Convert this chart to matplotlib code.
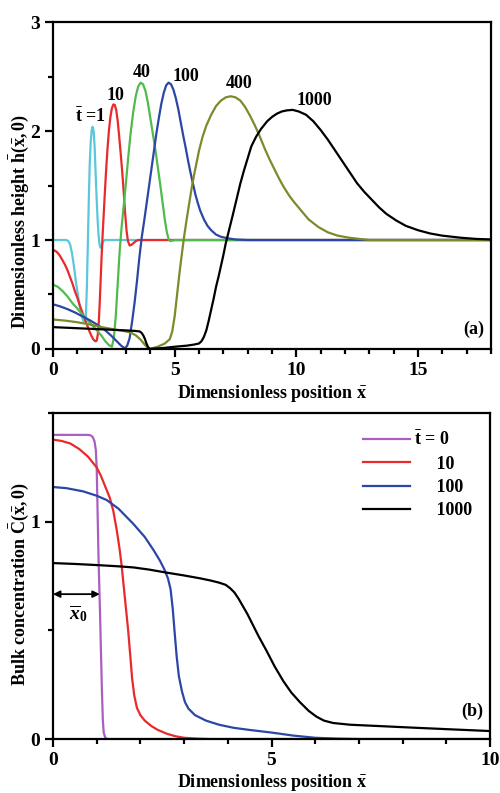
import matplotlib
matplotlib.use('Agg')
import matplotlib.pyplot as plt
from matplotlib.ticker import MultipleLocator

plt.rcParams['font.family'] = 'Liberation Serif'
plt.rcParams['font.weight'] = 'bold'
plt.rcParams['mathtext.fontset'] = 'custom'
plt.rcParams['mathtext.rm'] = 'Liberation Serif:bold'
plt.rcParams['mathtext.bf'] = 'Liberation Serif:bold'
plt.rcParams['mathtext.it'] = 'Liberation Serif:italic'
plt.rcParams['mathtext.sf'] = 'Liberation Serif'

# ---- (a) film height profiles h(x,0) at several times ----
x_t1 = [0, 0.2, 0.4, 0.55, 0.63, 0.7, 0.78, 0.86, 0.94, 1.02, 1.1, 1.17, 1.24, 1.3, 1.35, 1.39, 1.42, 1.45, 1.48,
        1.51, 1.55, 1.59, 1.63, 1.67, 1.71, 1.75, 1.79, 1.83, 1.87, 1.91, 1.95, 2.0, 2.05, 2.12, 2.2, 18]
h_t1 = [1.0, 1.0, 1.0, 1.0, 0.99, 0.96, 0.88, 0.76, 0.62, 0.5, 0.39, 0.31, 0.26, 0.25, 0.3, 0.55, 0.85, 1.15, 1.45,
        1.7, 1.9, 2.01, 2.04, 2.0, 1.86, 1.62, 1.4, 1.2, 1.05, 0.96, 0.93, 0.95, 0.98, 1.0, 1.0, 1.0]

x_t10 = [0, 0.1, 0.2, 0.3, 0.4, 0.5, 0.6, 0.7, 0.8, 0.9, 1.0, 1.1, 1.2, 1.3, 1.4, 1.5, 1.58, 1.65, 1.71, 1.76,
         1.8, 1.84, 1.88, 1.92, 1.96, 2.0, 2.04, 2.08, 2.13, 2.18, 2.24, 2.3, 2.36, 2.42, 2.48, 2.54, 2.6, 2.66,
         2.72, 2.78, 2.84, 2.9, 2.96, 3.02, 3.08, 3.15, 3.22, 3.3, 3.4, 3.5, 18]
h_t10 = [0.91, 0.9, 0.88, 0.85, 0.81, 0.77, 0.72, 0.66, 0.6, 0.53, 0.47, 0.4, 0.34, 0.28, 0.22, 0.16, 0.12, 0.09,
         0.075, 0.07, 0.08, 0.13, 0.24, 0.42, 0.64, 0.86, 1.05, 1.22, 1.43, 1.63, 1.84, 2.01, 2.13, 2.21, 2.245,
         2.24, 2.19, 2.09, 1.95, 1.8, 1.64, 1.46, 1.26, 1.09, 0.99, 0.95, 0.955, 0.97, 0.99, 1.0, 1.0]

x_t40 = [0, 0.2, 0.4, 0.6, 0.8, 1.0, 1.2, 1.4, 1.6, 1.8, 2.0, 2.15, 2.3, 2.42, 2.5, 2.58, 2.66, 2.74, 2.82, 2.9,
         3.0, 3.1, 3.2, 3.3, 3.4, 3.5, 3.6, 3.7, 3.8, 3.9, 4.0, 4.1, 4.2, 4.3, 4.4, 4.5, 4.6, 4.68, 4.75, 4.82,
         4.9, 5.0, 18]
h_t40 = [0.59, 0.57, 0.53, 0.48, 0.42, 0.37, 0.32, 0.27, 0.22, 0.17, 0.12, 0.07, 0.035, 0.02, 0.1, 0.3, 0.6, 0.9,
         1.12, 1.3, 1.53, 1.78, 2.0, 2.18, 2.32, 2.41, 2.445, 2.43, 2.37, 2.26, 2.12, 1.98, 1.84, 1.68, 1.52,
         1.35, 1.18, 1.07, 1.01, 0.99, 0.995, 1.0, 1.0]

x_t100 = [0, 0.3, 0.6, 0.9, 1.2, 1.5, 1.8, 2.1, 2.4, 2.6, 2.8, 2.95, 3.05, 3.15, 3.25, 3.35, 3.45, 3.55, 3.65,
          3.75, 3.85, 3.95, 4.05, 4.15, 4.25, 4.35, 4.45, 4.55, 4.65, 4.75, 4.85, 4.95, 5.05, 5.15, 5.25, 5.35,
          5.45, 5.55, 5.65, 5.75, 5.85, 5.95, 6.05, 6.2, 6.35, 6.5, 6.7, 6.9, 7.2, 7.5, 8.0, 18]
h_t100 = [0.41, 0.39, 0.365, 0.335, 0.3, 0.265, 0.225, 0.18, 0.12, 0.075, 0.03, 0.005, 0.03, 0.1, 0.25, 0.42,
          0.62, 0.84, 1.03, 1.18, 1.34, 1.5, 1.66, 1.82, 1.98, 2.12, 2.25, 2.35, 2.42, 2.445, 2.43, 2.38, 2.3,
          2.2, 2.08, 1.96, 1.85, 1.73, 1.62, 1.52, 1.42, 1.34, 1.27, 1.19, 1.13, 1.09, 1.05, 1.03, 1.015, 1.005,
          1.0, 1.0]

x_t400 = [0, 0.5, 1.0, 1.5, 2.0, 2.5, 2.9, 3.2, 3.4, 3.6, 3.75, 3.87, 3.97, 4.3, 4.6, 4.8, 4.9, 5.0, 5.1, 5.2,
          5.3, 5.4, 5.5, 5.6, 5.7, 5.8, 5.9, 6.0, 6.15, 6.3, 6.5, 6.7, 6.9, 7.1, 7.3, 7.5, 7.7, 7.9, 8.1, 8.3,
          8.5, 8.7, 8.9, 9.1, 9.3, 9.5, 9.7, 9.9, 10.2, 10.5, 10.9, 11.3, 11.7, 12.2, 13.0, 18]
h_t400 = [0.27, 0.26, 0.245, 0.225, 0.2, 0.18, 0.165, 0.15, 0.125, 0.085, 0.045, 0.015, 0.0, 0.02, 0.05, 0.09,
          0.16, 0.3, 0.5, 0.7, 0.88, 1.05, 1.2, 1.34, 1.48, 1.6, 1.71, 1.82, 1.95, 2.05, 2.15, 2.23, 2.28, 2.31,
          2.32, 2.31, 2.28, 2.22, 2.14, 2.05, 1.95, 1.84, 1.74, 1.65, 1.56, 1.48, 1.41, 1.35, 1.27, 1.19, 1.12,
          1.07, 1.04, 1.02, 1.0, 1.0]

x_t1000 = [0, 1.0, 2.0, 3.0, 3.4, 3.57, 3.65, 3.72, 3.78, 3.84, 3.9, 3.97, 4.5, 5.0, 5.5, 5.8, 6.0, 6.1, 6.2,
           6.3, 6.4, 6.5, 6.6, 6.7, 6.8, 6.9, 7.0, 7.1, 7.2, 7.3, 7.4, 7.55, 7.7, 7.85, 8.0, 8.15, 8.35, 8.55,
           8.8, 9.0, 9.2, 9.4, 9.6, 9.85, 10.1, 10.4, 10.7, 11.0, 11.3, 11.6, 11.9, 12.2, 12.5, 12.8, 13.1, 13.4,
           13.7, 14.1, 14.5, 15.0, 15.5, 16.0, 16.8, 17.4, 18]
h_t1000 = [0.2, 0.19, 0.18, 0.17, 0.165, 0.16, 0.145, 0.12, 0.09, 0.05, 0.02, 0.0, 0.008, 0.02, 0.03, 0.04, 0.05,
           0.07, 0.11, 0.17, 0.26, 0.36, 0.46, 0.57, 0.66, 0.76, 0.86, 0.97, 1.06, 1.15, 1.24, 1.38, 1.52, 1.64,
           1.75, 1.86, 1.95, 2.02, 2.09, 2.13, 2.16, 2.18, 2.19, 2.195, 2.18, 2.15, 2.09, 2.01, 1.92, 1.82, 1.72,
           1.62, 1.52, 1.44, 1.37, 1.3, 1.24, 1.18, 1.13, 1.09, 1.06, 1.04, 1.02, 1.01, 1.005]

height_curves = [
    (x_t1, h_t1, '#5ac7da'),
    (x_t10, h_t10, '#e82a2c'),
    (x_t40, h_t40, '#50bb4c'),
    (x_t100, h_t100, '#2c46a6'),
    (x_t400, h_t400, '#7c8a2c'),
    (x_t1000, h_t1000, 'black'),
]
height_labels = [r'$\bar{\mathrm{t}}$ =1', '10', '40', '100', '400', '1000']
height_label_pos = [(1.55, 2.13), (2.56, 2.33), (3.63, 2.54), (5.48, 2.5), (7.66, 2.44), (10.76, 2.28)]

# ---- (b) bulk concentration profiles C(x,0) ----
x_c0 = [0, 0.5, 0.8, 0.86, 0.91, 0.95, 0.98, 1.0, 1.02, 1.04, 1.06, 1.08, 1.1, 1.12, 1.14, 1.16, 1.19, 1.23, 10]
c_c0 = [1.40, 1.40, 1.40, 1.398, 1.39, 1.37, 1.33, 1.25, 1.05, 0.85, 0.7, 0.55, 0.38, 0.22, 0.09, 0.03, 0.01, 0.0, 0.0]

x_c10 = [0, 0.2, 0.4, 0.6, 0.8, 1.0, 1.1, 1.2, 1.3, 1.38, 1.46, 1.52, 1.57, 1.62, 1.67, 1.72, 1.77, 1.81, 1.86,
         1.92, 2.0, 2.1, 2.25, 2.4, 2.6, 2.8, 3.0, 3.3, 3.6, 10]
c_c10 = [1.378, 1.372, 1.36, 1.335, 1.3, 1.25, 1.21, 1.16, 1.11, 1.05, 0.96, 0.88, 0.8, 0.7, 0.6, 0.5, 0.38, 0.28,
         0.2, 0.144, 0.11, 0.085, 0.06, 0.042, 0.025, 0.013, 0.006, 0.002, 0.0, 0.0]

x_c100 = [0, 0.3, 0.69, 1.0, 1.23, 1.5, 1.84, 2.1, 2.3, 2.45, 2.55, 2.63, 2.69, 2.74, 2.78, 2.83, 2.88, 2.95, 3.02,
          3.1, 3.25, 3.5, 3.8, 4.13, 4.5, 5.0, 5.5, 6.0, 6.5, 7.0, 10]
c_c100 = [1.16, 1.155, 1.14, 1.12, 1.10, 1.06, 0.99, 0.93, 0.87, 0.82, 0.78, 0.74, 0.69, 0.6, 0.5, 0.38, 0.29,
          0.22, 0.17, 0.14, 0.11, 0.085, 0.066, 0.052, 0.042, 0.03, 0.016, 0.006, 0.002, 0.0, 0.0]

x_c1000 = [0, 0.5, 1.08, 1.5, 1.84, 2.2, 2.6, 3.0, 3.36, 3.6, 3.8, 3.95, 4.05, 4.15, 4.25, 4.35, 4.45, 4.55, 4.7,
           4.89, 5.07, 5.27, 5.45, 5.65, 5.85, 6.03, 6.2, 6.41, 6.8, 7.56, 8.3, 9.08, 10]
c_c1000 = [0.81, 0.806, 0.80, 0.795, 0.79, 0.78, 0.766, 0.753, 0.74, 0.73, 0.72, 0.71, 0.695, 0.675, 0.645, 0.61,
           0.575, 0.535, 0.475, 0.405, 0.335, 0.267, 0.215, 0.17, 0.13, 0.103, 0.085, 0.074, 0.066, 0.059, 0.052,
           0.045, 0.037]

conc_curves = [
    (x_c0, c_c0, '#ab5ec2'),
    (x_c10, c_c10, '#e82a2c'),
    (x_c100, c_c100, '#2c46a6'),
    (x_c1000, c_c1000, 'black'),
]
conc_labels = [r'$\bar{\mathrm{t}}$ = 0', '     10', '     100', '     1000']

x0_front = 1.07   # initial front position of the bulk solution
arrow_level = 0.667

fig = plt.figure(figsize=(5, 7.93), dpi=100)
ax1 = fig.add_axes([0.106, 0.560, 0.876, 0.412])
ax2 = fig.add_axes([0.106, 0.068, 0.874, 0.411])

for x, h, c in height_curves:
    ax1.plot(x, h, color=c, lw=1.6)
for (tx, ty), lab in zip(height_label_pos, height_labels):
    ax1.text(tx, ty, lab, fontsize=13, fontweight='bold', ha='center', va='center')

ax1.set_xlim(0, 18)
ax1.set_ylim(0, 3)
ax1.xaxis.set_major_locator(MultipleLocator(5))
ax1.xaxis.set_minor_locator(MultipleLocator(1))
ax1.yaxis.set_major_locator(MultipleLocator(1))
ax1.yaxis.set_minor_locator(MultipleLocator(0.5))
ax1.set_xlabel(r'Dimensionless position $\bar{\mathrm{x}}$', fontsize=13, fontweight='bold')
ax1.set_ylabel(r'Dimensionless height $\bar{\mathrm{h}}(\bar{\mathrm{x}},0)$', fontsize=13, fontweight='bold')
ax1.text(0.985, 0.034, '(a)', transform=ax1.transAxes, ha='right', va='bottom', fontsize=13, fontweight='bold')

for (x, cval, c), lab in zip(conc_curves, conc_labels):
    ax2.plot(x, cval, color=c, lw=1.6, label=lab)

ax2.annotate('', xy=(0, arrow_level), xytext=(x0_front, arrow_level),
             arrowprops=dict(arrowstyle='<|-|>', color='black', lw=1.3,
                             shrinkA=0, shrinkB=0, mutation_scale=10))
ax2.text(0.58, 0.575, r'$\overline{x}_{\mathsf{0}}$', fontsize=14, ha='center', va='center')

ax2.set_xlim(0, 10)
ax2.set_ylim(0, 1.5)
ax2.xaxis.set_major_locator(MultipleLocator(5))
ax2.xaxis.set_minor_locator(MultipleLocator(1))
ax2.yaxis.set_major_locator(MultipleLocator(1))
ax2.yaxis.set_minor_locator(MultipleLocator(0.5))
ax2.set_xlabel(r'Dimensionless position $\bar{\mathrm{x}}$', fontsize=13, fontweight='bold')
ax2.set_ylabel(r'Bulk concentration $\bar{\mathrm{C}}(\bar{\mathrm{x}},0)$', fontsize=13, fontweight='bold')
ax2.text(0.985, 0.058, '(b)', transform=ax2.transAxes, ha='right', va='bottom', fontsize=13, fontweight='bold')
ax2.legend(loc='upper right', frameon=False, fontsize=13, handlelength=2.6,
           labelspacing=0.35, borderaxespad=0.6, handletextpad=0.2)

for ax in (ax1, ax2):
    for sp in ax.spines.values():
        sp.set_linewidth(1.6)
    ax.tick_params(which='both', direction='out', width=1.6, top=False, right=False, labelsize=14)
    ax.tick_params(which='major', length=6)
    ax.tick_params(which='minor', length=3.5)
    for lbl in ax.get_xticklabels() + ax.get_yticklabels():
        lbl.set_fontweight('bold')

ax1.yaxis.set_label_coords(-0.05, 0.39)
ax2.yaxis.set_label_coords(-0.05, 0.476)
ax1.xaxis.set_label_coords(0.5, -0.105)
ax2.xaxis.set_label_coords(0.5, -0.10)

fig.savefig('out.png', dpi=100)
